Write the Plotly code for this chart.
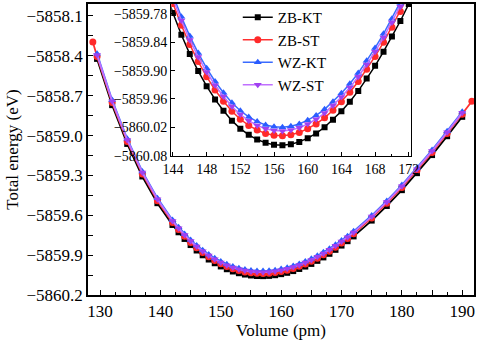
import plotly.graph_objects as go

# Volume grid (pm)
volume = [129.5, 132, 134.5, 137, 139.5, 142,
          143, 144, 145, 146, 147, 148, 149, 150, 151, 152, 153, 154, 155, 156, 157,
          158, 159, 160, 161, 162, 163, 164, 165, 166, 167, 168, 169, 170, 171, 172,
          175, 177.5, 180, 182.5, 185, 187.5, 190]
volume_zbst = [128.8] + volume + [191.6]

e_zb_kt = [-5858.423, -5858.771, -5859.063, -5859.308, -5859.509, -5859.673,
           -5859.728, -5859.778, -5859.824, -5859.865, -5859.901, -5859.933, -5859.961,
           -5859.985, -5860.006, -5860.023, -5860.036, -5860.046, -5860.053, -5860.057,
           -5860.058, -5860.056, -5860.051, -5860.043, -5860.033, -5860.020, -5860.004,
           -5859.986, -5859.966, -5859.943, -5859.917, -5859.890, -5859.860, -5859.828,
           -5859.795, -5859.759, -5859.640, -5859.530, -5859.411, -5859.283, -5859.147,
           -5859.005, -5858.859]

e_zb_st = [-5858.296,
           -5858.405, -5858.752, -5859.044, -5859.289, -5859.490, -5859.654,
           -5859.708, -5859.758, -5859.804, -5859.845, -5859.881, -5859.913, -5859.941,
           -5859.965, -5859.986, -5860.003, -5860.016, -5860.026, -5860.033, -5860.037,
           -5860.038, -5860.036, -5860.031, -5860.023, -5860.013, -5860.000, -5859.984,
           -5859.966, -5859.946, -5859.923, -5859.897, -5859.870, -5859.840, -5859.808,
           -5859.775, -5859.739, -5859.620, -5859.510, -5859.391, -5859.263, -5859.127,
           -5858.985, -5858.839,
           -5858.742]

e_wz_kt = [-5858.385, -5858.733, -5859.025, -5859.270, -5859.471, -5859.635,
           -5859.690, -5859.740, -5859.786, -5859.827, -5859.863, -5859.895, -5859.923,
           -5859.947, -5859.968, -5859.985, -5859.998, -5860.008, -5860.015, -5860.019,
           -5860.020, -5860.018, -5860.013, -5860.005, -5859.995, -5859.982, -5859.966,
           -5859.948, -5859.928, -5859.905, -5859.879, -5859.852, -5859.822, -5859.790,
           -5859.757, -5859.721, -5859.602, -5859.492, -5859.373, -5859.245, -5859.109,
           -5858.967, -5858.821]

e_wz_st = [-5858.393, -5858.741, -5859.033, -5859.278, -5859.479, -5859.643,
           -5859.698, -5859.748, -5859.794, -5859.835, -5859.871, -5859.903, -5859.931,
           -5859.955, -5859.976, -5859.993, -5860.006, -5860.016, -5860.023, -5860.027,
           -5860.028, -5860.026, -5860.021, -5860.013, -5860.003, -5859.990, -5859.974,
           -5859.956, -5859.936, -5859.913, -5859.887, -5859.860, -5859.830, -5859.798,
           -5859.765, -5859.729, -5859.610, -5859.500, -5859.381, -5859.253, -5859.117,
           -5858.975, -5858.829]

series = [
    ("ZB-KT", volume, e_zb_kt, "#000000", "#000000", "square", 6),
    ("ZB-ST", volume_zbst, e_zb_st, "#ff3030", "#ff2a2a", "circle", 7),
    ("WZ-KT", volume, e_wz_kt, "#3a6bff", "#2a5cff", "triangle-up", 7),
    ("WZ-ST", volume, e_wz_st, "#c070ff", "#a040f0", "triangle-down", 7),
]

FONT = "Liberation Serif"
fig = go.Figure()

for name, xs, ys, lc, mc, sym, ms in series:
    fig.add_trace(go.Scatter(x=xs, y=ys, mode="lines+markers", name=name,
                             line=dict(color=lc, width=1.8),
                             marker=dict(color=mc, symbol=sym, size=ms),
                             xaxis="x", yaxis="y", showlegend=False))
for name, xs, ys, lc, mc, sym, ms in series:
    fig.add_trace(go.Scatter(x=xs, y=ys, mode="lines+markers", name=name,
                             line=dict(color=lc, width=1.5),
                             marker=dict(color=mc, symbol=sym, size=ms),
                             xaxis="x2", yaxis="y2", showlegend=True))

x_ticks = [130, 135, 140, 145, 150, 155, 160, 165, 170, 175, 180, 185, 190]
x_text = [str(v) if v % 10 == 0 else "" for v in x_ticks]

fig.update_layout(
    width=483, height=340,
    margin=dict(l=88, r=1, t=3, b=45),
    paper_bgcolor="white", plot_bgcolor="white",
    font=dict(family=FONT, size=17, color="black"),
    xaxis=dict(range=[128, 191.95], tickmode="array", tickvals=x_ticks, ticktext=x_text,
               ticks="inside", ticklen=5, tickwidth=1, tickcolor="black",
               minor=dict(dtick=2.5, tick0=130, ticks="inside", ticklen=3, tickcolor="black"),
               showline=True, linecolor="black", linewidth=1.5, mirror=True,
               showgrid=False, zeroline=False, automargin=False,
               title=dict(text="Volume (pm)", font=dict(size=17), standoff=6),
               domain=[0, 1]),
    yaxis=dict(range=[-5860.2, -5858.01], tick0=-5860.2, dtick=0.3, tickformat=".1f",
               ticks="inside", ticklen=5, tickwidth=1, tickcolor="black",
               minor=dict(dtick=0.15, tick0=-5860.2, ticks="inside", ticklen=5, tickcolor="black"),
               showline=True, linecolor="black", linewidth=1.5, mirror=True,
               showgrid=False, zeroline=False, automargin=False,
               title=dict(text="Total energy (eV)", font=dict(size=17), standoff=4),
               domain=[0, 1]),
    xaxis2=dict(range=[143.8, 172.3], tick0=144, dtick=4, anchor="y2",
                domain=[0.2157, 0.8376],
                ticks="inside", ticklen=4, tickcolor="black",
                minor=dict(dtick=2, ticks="inside", ticklen=2, tickcolor="black"),
                showline=True, linecolor="black", linewidth=1.2, mirror=True,
                showgrid=False, zeroline=False, tickfont=dict(size=14)),
    yaxis2=dict(range=[-5860.08, -5859.759], tick0=-5860.08, dtick=0.06, tickformat=".2f",
                anchor="x2", domain=[0.479, 1.0],
                ticks="inside", ticklen=4, tickcolor="black",
                showline=True, linecolor="black", linewidth=1.2, mirror=True,
                showgrid=False, zeroline=False, tickfont=dict(size=14)),
    legend=dict(x=0.388, y=1.01, xanchor="left", yanchor="top",
                bgcolor="rgba(0,0,0,0)", font=dict(size=15), tracegroupgap=0),
    showlegend=True,
)

fig.add_shape(type="rect", xref="x2 domain", yref="y2 domain", x0=0, x1=1, y0=0, y1=1,
              fillcolor="white", line=dict(width=0), layer="below")

fig.write_html("out.html")
